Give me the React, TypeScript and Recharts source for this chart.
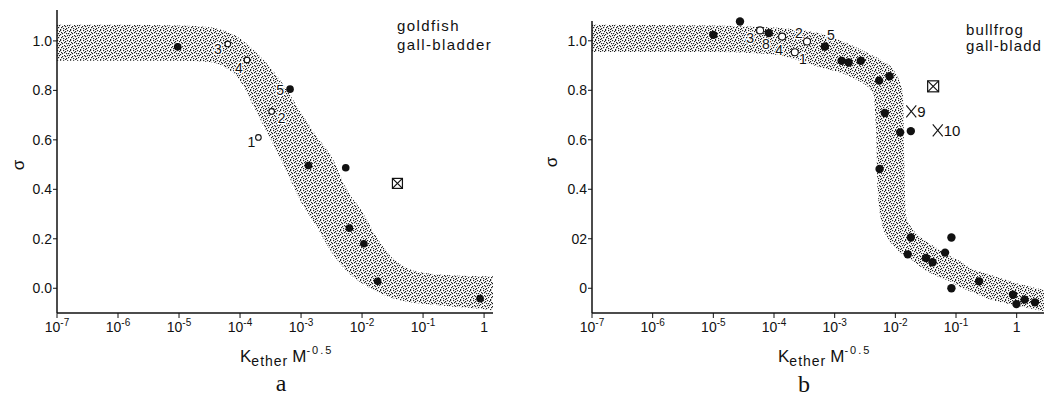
import React from 'react';
import { ComposedChart, Area, Scatter, XAxis, YAxis } from 'recharts';

const FONT = '"Liberation Sans", Arial, sans-serif';

// axes
const decadeTicks = [1e-7, 1e-6, 1e-5, 1e-4, 1e-3, 1e-2, 1e-1, 1];
const decadeExp = ['-7', '-6', '-5', '-4', '-3', '-2', '-1', ''];
const sigmaTicks = [0, 0.2, 0.4, 0.6, 0.8, 1.0];
const sigmaLabelsA = ['0.0', '0.2', '0.4', '0.6', '0.8', '1.0'];
const sigmaLabelsB = ['0', '02', '0.4', '0.6', '0.8', '1.0'];

// panel a: goldfish gall-bladder, shaded band edges
const bandAx = [1e-7, 1e-6, 1e-5, 3.2e-5, 5.6e-5, 1e-4, 1.8e-4, 3.2e-4, 5.6e-4, 1e-3, 1.8e-3, 3.2e-3, 5.6e-3, 1e-2, 1.8e-2, 3.2e-2, 5.6e-2, 0.1, 0.32, 1, 1.4];
const bandAlo = [0.92, 0.92, 0.92, 0.915, 0.895, 0.84, 0.72, 0.6, 0.48, 0.35, 0.25, 0.145, 0.07, 0.02, -0.015, -0.04, -0.055, -0.063, -0.075, -0.085, -0.09];
const bandAhi = [1.065, 1.065, 1.062, 1.055, 1.04, 1.01, 0.955, 0.89, 0.81, 0.71, 0.615, 0.53, 0.4, 0.31, 0.2, 0.12, 0.08, 0.063, 0.052, 0.049, 0.049];

const goldFilled = [
  { x: 9.5e-6, y: 0.976 }, { x: 6.6e-4, y: 0.805, n: '5' }, { x: 1.32e-3, y: 0.496 },
  { x: 5.4e-3, y: 0.487 }, { x: 6.2e-3, y: 0.243 }, { x: 1.07e-2, y: 0.18 },
  { x: 1.8e-2, y: 0.028 }, { x: 0.86, y: -0.042 },
];
const goldOpen = [
  { x: 6.3e-5, y: 0.988, n: '3' }, { x: 1.3e-4, y: 0.923, n: '4' },
  { x: 3.3e-4, y: 0.715, n: '2' }, { x: 2.0e-4, y: 0.61, n: '1' },
];
const goldCrossed = [{ x: 3.8e-2, y: 0.424 }];

// panel b: bullfrog gall-bladder
const bandBx = [1e-7, 1e-5, 5e-5, 1.6e-4, 5.6e-4, 2e-3, 4.3e-3, 4.8e-3, 5.1e-3, 5.9e-3, 7.6e-3, 1e-2, 1.32e-2, 1.35e-2, 1.41e-2, 1.48e-2, 1.62e-2, 2.24e-2, 2.8e-2, 4.8e-2, 7.9e-2, 0.115, 0.17, 0.32, 1, 3.16];
const bandBlo = [0.955, 0.955, 0.95, 0.935, 0.894, 0.85, 0.79, 0.65, 0.4, 0.27, 0.2, 0.165, 0.138, 0.137, 0.135, 0.132, 0.125, 0.1, 0.081, 0.05, 0.028, 0.005, -0.012, -0.04, -0.07, -0.095];
const bandBhi = [1.065, 1.062, 1.057, 1.05, 1.03, 0.98, 0.94, 0.935, 0.93, 0.92, 0.905, 0.87, 0.79, 0.76, 0.5, 0.3, 0.272, 0.22, 0.2, 0.163, 0.13, 0.11, 0.081, 0.06, 0.02, -0.01];

const frogFilled = [
  { x: 1.0e-5, y: 1.024 }, { x: 2.75e-5, y: 1.078 }, { x: 8.2e-5, y: 1.031, n: '8' },
  { x: 6.9e-4, y: 0.977, n: '5' }, { x: 1.3e-3, y: 0.919 }, { x: 1.7e-3, y: 0.912 },
  { x: 2.7e-3, y: 0.919 }, { x: 5.4e-3, y: 0.839 }, { x: 8.0e-3, y: 0.857 },
  { x: 6.7e-3, y: 0.708 }, { x: 1.2e-2, y: 0.63 }, { x: 1.8e-2, y: 0.635 },
  { x: 5.5e-3, y: 0.482 }, { x: 1.8e-2, y: 0.205 }, { x: 1.6e-2, y: 0.137 },
  { x: 3.2e-2, y: 0.122 }, { x: 4.1e-2, y: 0.105 }, { x: 6.6e-2, y: 0.144 },
  { x: 8.4e-2, y: 0.205 }, { x: 8.4e-2, y: 0.0 }, { x: 0.24, y: 0.028 },
  { x: 0.87, y: -0.026 }, { x: 0.99, y: -0.064 }, { x: 1.35, y: -0.046 }, { x: 2.0, y: -0.057 },
];
const frogOpen = [
  { x: 5.9e-5, y: 1.042, n: '3' }, { x: 1.36e-4, y: 1.017, n: '4' },
  { x: 3.5e-4, y: 0.997, n: '2' }, { x: 2.2e-4, y: 0.954, n: '1' },
];
const frogCrossed = [{ x: 4.2e-2, y: 0.816 }];
const frogCross = [{ x: 1.83e-2, y: 0.715, n: '9' }, { x: 5.0e-2, y: 0.638, n: '10' }];

// where the point numbers sit relative to their marker
const labelPosA: Record<string, [number, number]> = { '3': [-10, 5], '4': [-8, 8], '2': [10, 7], '1': [-7, 5], '5': [-10, 1] };
const labelPosB: Record<string, [number, number]> = { '3': [-10, 8], '8': [-3, 11], '4': [-3, 13], '2': [-8, -9], '1': [8, 7], '5': [6, -11] };

// hand-placed dots of one stipple tile (10 x 10)
const STIPPLE_DOTS = [
  [0, 0], [3, 0], [7, 0], [5, 1], [9, 1], [1, 2], [4, 2], [2, 3], [6, 3], [8, 3], [0, 4],
  [4, 5], [7, 5], [9, 5], [2, 6], [5, 6], [1, 7], [8, 7], [3, 8], [6, 8], [0, 9], [5, 9],
];

const makeBand = (xs: number[], lo: number[], hi: number[]) =>
  xs.map((x, i) => ({ x, band: [lo[i], hi[i]] }));

const Stipple = ({ id }: { id: string }) => (
  <defs>
    <pattern id={id} width={10} height={10} patternUnits="userSpaceOnUse">
      {STIPPLE_DOTS.map(([dx, dy], i) => (
        <rect key={i} x={dx} y={dy} width={1.2} height={1.2} fill="#222" />
      ))}
    </pattern>
  </defs>
);

const DecadeTick = (p: any) => {
  const exp = decadeExp[decadeTicks.indexOf(p.payload.value)];
  return (
    <text x={p.x} y={p.y + 12} textAnchor="middle" fontFamily={FONT} fontSize={14} fill="#111">
      {exp ? (
        <>
          10<tspan dy={-6} fontSize={10}>{exp}</tspan>
        </>
      ) : '1'}
    </text>
  );
};

const pointShape = (kind: 'filled' | 'open', r: number, pos: Record<string, [number, number]>) => (p: any) => {
  const { cx, cy, payload } = p;
  const off = payload.n ? pos[payload.n] : null;
  return (
    <g>
      {kind === 'filled'
        ? <circle cx={cx} cy={cy} r={r} fill="#111" />
        : <circle cx={cx} cy={cy} r={r} fill="#fff" stroke="#111" strokeWidth={1.1} />}
      {off && (
        <text x={cx + off[0]} y={cy + off[1]} textAnchor="middle" dominantBaseline="central"
          fontFamily={FONT} fontSize={14} fill="#111" stroke="#fff" strokeWidth={2.5}
          paintOrder="stroke">{payload.n}</text>
      )}
    </g>
  );
};

const crossedSquare = (s: number) => (p: any) => {
  const { cx, cy } = p;
  const h = s / 2;
  return (
    <g stroke="#111" strokeWidth={1.2} fill="none">
      <rect x={cx - h} y={cy - h} width={s} height={s} />
      <line x1={cx - h} y1={cy - h} x2={cx + h} y2={cy + h} />
      <line x1={cx - h} y1={cy + h} x2={cx + h} y2={cy - h} />
    </g>
  );
};

const crossMark = (p: any) => {
  const { cx, cy, payload } = p;
  return (
    <g>
      <g stroke="#111" strokeWidth={1.1}>
        <line x1={cx - 5} y1={cy - 6} x2={cx + 5} y2={cy + 6} />
        <line x1={cx - 5} y1={cy + 6} x2={cx + 5} y2={cy - 6} />
      </g>
      <text x={cx + 6} y={cy} dominantBaseline="central" fontFamily={FONT} fontSize={15} fill="#111">
        {payload.n}
      </text>
    </g>
  );
};

interface PanelProps {
  id: string;
  width: number;
  marginTop: number;
  marginRight: number;
  xMax: number;
  yMax: number;
  yLabels: string[];
  band: Array<{ x: number; band: number[] }>;
  filled: any[];
  open: any[];
  crossed: any[];
  crosses?: any[];
  labelPos: Record<string, [number, number]>;
  dotR: number;
  openR: number;
  squareSize: number;
}

const Panel: React.FC<PanelProps> = (props) => (
  <ComposedChart width={props.width} height={399}
    margin={{ top: props.marginTop, right: props.marginRight, bottom: 0, left: 0 }}>
    <Stipple id={props.id} />
    <XAxis dataKey="x" type="number" scale="log" domain={[1e-7, props.xMax]}
      ticks={decadeTicks} interval={0} height={86} tickSize={5} tickMargin={2}
      axisLine={{ stroke: '#111', strokeWidth: 1.5 }} tickLine={{ stroke: '#111' }}
      tick={(p: any) => <DecadeTick {...p} />} />
    <YAxis type="number" domain={[-0.1, props.yMax]} ticks={sigmaTicks}
      width={57} tickSize={4} tickMargin={1}
      axisLine={{ stroke: '#111', strokeWidth: 1.5 }} tickLine={{ stroke: '#111' }}
      tick={{ fontFamily: FONT, fontSize: 14, fill: '#111' }}
      tickFormatter={(v: number) => props.yLabels[sigmaTicks.indexOf(v)] ?? ''} />
    <Area data={props.band} dataKey="band" type="monotone" stroke="none"
      fill={`url(#${props.id})`} fillOpacity={1} isAnimationActive={false} activeDot={false} />
    <Scatter data={props.filled} dataKey="y" isAnimationActive={false}
      shape={pointShape('filled', props.dotR, props.labelPos)} />
    <Scatter data={props.open} dataKey="y" isAnimationActive={false}
      shape={pointShape('open', props.openR, props.labelPos)} />
    <Scatter data={props.crossed} dataKey="y" isAnimationActive={false}
      shape={crossedSquare(props.squareSize)} />
    {props.crosses ? (
      <Scatter data={props.crosses} dataKey="y" isAnimationActive={false} shape={crossMark} />
    ) : null}
  </ComposedChart>
);

const AxisTitle = ({ x, y }: { x: number; y: number }) => (
  <text x={x} y={y} fontFamily={FONT} fontSize={17} fill="#111">
    K<tspan dy={4} fontSize={14} letterSpacing={1}>ether</tspan>
    <tspan dy={-4} dx={4}>M</tspan>
    <tspan dy={-8} fontSize={11} letterSpacing={2}>-0.5</tspan>
  </text>
);

const App: React.FC = () => (
  <div style={{ position: 'absolute', left: 0, top: 0, width: 1044, height: 399, overflow: 'hidden', background: '#fff' }}>
    <div style={{ position: 'absolute', left: 0, top: 0 }}>
      <Panel id="stippleA" width={520} marginTop={10} marginRight={27} xMax={1.4} yMax={1.125}
        yLabels={sigmaLabelsA} band={makeBand(bandAx, bandAlo, bandAhi)}
        filled={goldFilled} open={goldOpen} crossed={goldCrossed}
        labelPos={labelPosA} dotR={3.8} openR={2.8} squareSize={10} />
    </div>
    <div style={{ position: 'absolute', left: 535, top: 0 }}>
      <Panel id="stippleB" width={522} marginTop={21} marginRight={10} xMax={3.16} yMax={1.08}
        yLabels={sigmaLabelsB} band={makeBand(bandBx, bandBlo, bandBhi)}
        filled={frogFilled} open={frogOpen} crossed={frogCrossed} crosses={frogCross}
        labelPos={labelPosB} dotR={4.2} openR={3.5} squareSize={11} />
    </div>
    <svg width={1044} height={399} style={{ position: 'absolute', left: 0, top: 0, pointerEvents: 'none' }}>
      <text x={397} y={31} fontFamily={FONT} fontSize={15} letterSpacing={1.4} fill="#111">goldfish</text>
      <text x={397} y={50} fontFamily={FONT} fontSize={15} letterSpacing={1.4} fill="#111">gall-bladder</text>
      <text x={966} y={35} fontFamily={FONT} fontSize={15} letterSpacing={1.1} fill="#111">bullfrog</text>
      <text x={966} y={51} fontFamily={FONT} fontSize={15} letterSpacing={1.1} fill="#111">gall-bladd</text>
      <text x={18} y={165} fontFamily={FONT} fontSize={17} fill="#111" textAnchor="middle"
        dominantBaseline="central" transform="rotate(-90 18 165)">σ</text>
      <text x={551} y={162} fontFamily={FONT} fontSize={17} fill="#111" textAnchor="middle"
        dominantBaseline="central" transform="rotate(-90 551 162)">σ</text>
      <AxisTitle x={240} y={362} />
      <AxisTitle x={778} y={362} />
      <text x={281} y={391} fontFamily='"Liberation Serif", "Times New Roman", serif' fontSize={24}
        textAnchor="middle" fill="#111">a</text>
      <text x={804} y={392} fontFamily='"Liberation Serif", "Times New Roman", serif' fontSize={24}
        textAnchor="middle" fill="#111">b</text>
    </svg>
  </div>
);

export default App;
